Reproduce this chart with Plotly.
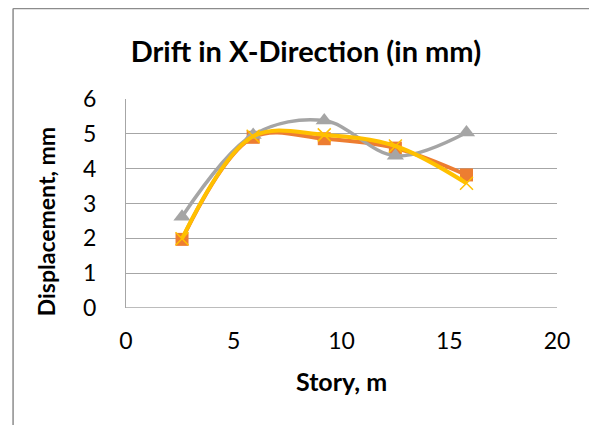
import plotly.graph_objects as go

story = [2.6, 5.9, 9.2, 12.5, 15.8]
gray_vals = [2.62, 4.97, 5.38, 4.37, 5.04]
orange_vals = [1.97, 4.90, 4.86, 4.59, 3.82]
yellow_vals = [1.99, 4.93, 4.97, 4.65, 3.58]
x_ticks = [0, 5, 10, 15, 20]
y_ticks = [0, 1, 2, 3, 4, 5, 6]

FONT = "Lato"

fig = go.Figure()
fig.add_trace(go.Scatter(
    x=story, y=orange_vals, mode="lines+markers",
    line=dict(color="#ED7D31", width=4, shape="spline", smoothing=1),
    marker=dict(symbol="square", size=13, color="#ED7D31"),
))
fig.add_trace(go.Scatter(
    x=story, y=gray_vals, mode="lines+markers",
    line=dict(color="#A5A5A5", width=3.5, shape="spline", smoothing=1),
    marker=dict(symbol="triangle-up", size=15, color="#A5A5A5"),
))
fig.add_trace(go.Scatter(
    x=story, y=yellow_vals, mode="lines+markers",
    line=dict(color="#FFC000", width=4, shape="spline", smoothing=1),
    marker=dict(symbol="x-thin", size=13, color="#FFC000",
                line=dict(color="#FFC000", width=1.5)),
))

fig.update_layout(
    width=597, height=425,
    margin=dict(l=118, r=48, t=91, b=125),
    paper_bgcolor="white", plot_bgcolor="white",
    showlegend=False,
    font=dict(family=FONT, color="#000000"),
    title=dict(text="<b>Drift in X-Direction (in mm)</b>", x=0.499, xanchor="center",
               y=0.896, yanchor="middle", font=dict(size=29, family=FONT, color="#000")),
)
fig.update_xaxes(
    range=[0, 20], tickvals=x_ticks, ticktext=[str(v) for v in x_ticks],
    showgrid=False, zeroline=False, showline=False,
    tickfont=dict(size=23, family=FONT, color="#000"), ticks="", ticklabelstandoff=17,
)
fig.update_yaxes(
    range=[0, 6], tickvals=y_ticks, ticktext=[str(v) for v in y_ticks],
    showgrid=True, gridcolor="#A6A6A6", gridwidth=1.3, zeroline=False,
    showline=True, linecolor="#A6A6A6", linewidth=1.3,
    tickfont=dict(size=23, family=FONT, color="#000"), ticks="", ticklabelstandoff=24,
)
# bottom axis line
fig.add_shape(type="line", xref="paper", yref="y", x0=0, x1=1, y0=0, y1=0,
              line=dict(color="#A6A6A6", width=1.3), layer="below")
fig.add_annotation(text="<b>Story, m</b>", xref="paper", yref="paper",
                   x=0.501, y=-0.349, xanchor="center", yanchor="middle", showarrow=False,
                   font=dict(size=25, family=FONT, color="#000"))
fig.add_annotation(text="<b>Displacement, mm</b>", xref="paper", yref="paper",
                   x=-0.1856, y=0.41, xanchor="center", yanchor="middle", showarrow=False,
                   textangle=-90, font=dict(size=23, family=FONT, color="#000"))
# chart frame (left and top edges visible)
fig.add_shape(type="line", xref="paper", yref="paper", x0=-0.262, x1=-0.262, y0=1.433, y1=-0.7,
              line=dict(color="#8C8C8C", width=1.5))
fig.add_shape(type="line", xref="paper", yref="paper", x0=-0.262, x1=1.2, y0=1.433, y1=1.433,
              line=dict(color="#8C8C8C", width=1.5))

fig.write_html("out.html")
